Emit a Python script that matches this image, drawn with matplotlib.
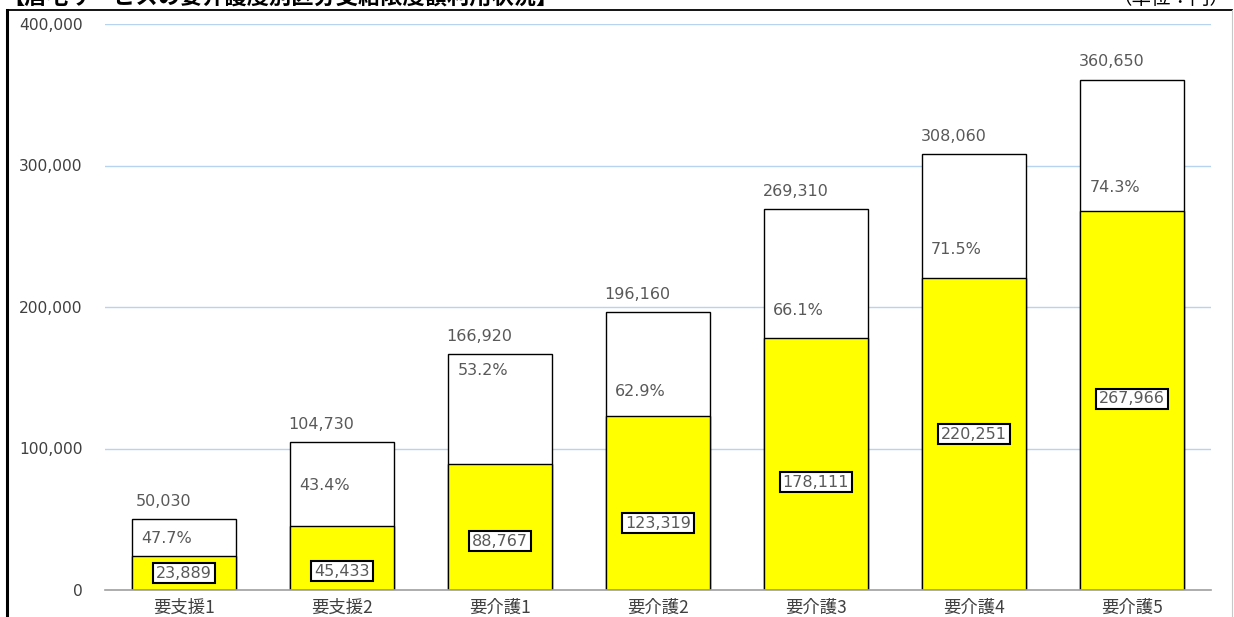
import numpy as np
import matplotlib
matplotlib.use('Agg')
import matplotlib.pyplot as plt
from matplotlib.lines import Line2D
from matplotlib.ticker import FuncFormatter

plt.rcParams['font.family'] = ['DejaVu Sans', 'Noto Sans CJK JP']

# Data
categories = ['要支援1', '要支援2', '要介護1', '要介護2', '要介護3', '要介護4', '要介護5']
limit_amount = [50030, 104730, 166920, 196160, 269310, 308060, 360650]
used_amount = [23889, 45433, 88767, 123319, 178111, 220251, 267966]
usage_rate = [47.7, 43.4, 53.2, 62.9, 66.1, 71.5, 74.3]

# label heights (data units), placed by hand in the original
rate_label_y = [36700, 74200, 154800, 140600, 197200, 240300, 284100]
used_label_y = [12000, 13400, 34600, 47300, 76300, 110200, 135000]

W, H = 1234, 617
fig = plt.figure(figsize=(W / 100, H / 100), dpi=100)
ax = fig.add_axes([105 / W, 1 - 590 / H, (1211 - 105) / W, (590 - 24) / H])

x = np.arange(len(categories))
bar_w = 0.66

# white bar = full limit, yellow bar = used part
ax.bar(x, limit_amount, width=bar_w, color='white', edgecolor='black', linewidth=1, zorder=2)
ax.bar(x, used_amount, width=bar_w, color='#ffff00', edgecolor='black', linewidth=1, zorder=3)

txt_color = '#595959'
for i in range(len(x)):
  ax.text(x[i] - 0.13, limit_amount[i] + 12500, f'{limit_amount[i]:,}', ha='center', va='center',
          fontsize=11.5, color=txt_color, zorder=5)
  ax.text(x[i] - 0.11, rate_label_y[i], f'{usage_rate[i]:.1f}%', ha='center', va='center',
          fontsize=11.5, color=txt_color, zorder=5)
  ax.text(x[i], used_label_y[i], f'{used_amount[i]:,}', ha='center', va='center',
          fontsize=11.5, color=txt_color, zorder=5,
          bbox=dict(boxstyle='square,pad=0.18', facecolor='white', edgecolor='black', linewidth=1.5))

ax.set_xlim(-0.5, len(categories) - 0.5)
ax.set_ylim(0, 400000)
ax.set_yticks([0, 100000, 200000, 300000, 400000])
ax.yaxis.set_major_formatter(FuncFormatter(lambda v, p: f'{int(v):,}'))
ax.set_xticks(x)
ax.set_xticklabels(categories, fontsize=12.5, color='#404040', family=['Noto Sans CJK JP', 'DejaVu Sans'])
ax.tick_params(axis='y', length=0, pad=16, labelsize=11.2, labelcolor='#404040')
ax.tick_params(axis='x', length=0, pad=6)

ax.grid(axis='y', color='#b7d3ee', linewidth=1, zorder=0)
ax.set_axisbelow(True)
for s in ['top', 'right', 'left']:
  ax.spines[s].set_visible(False)
ax.spines['bottom'].set_color('#a0a0a0')
ax.spines['bottom'].set_linewidth(1.2)
ax.spines['bottom'].set_zorder(4)

# outer frame of the original sheet
fig.add_artist(Line2D([7 / W, 7 / W], [0, 1 - 10 / H], color='black', linewidth=2.2))
fig.add_artist(Line2D([7 / W, 1232 / W], [1 - 10 / H, 1 - 10 / H], color='black', linewidth=1.3))
fig.add_artist(Line2D([1232 / W, 1232 / W], [0, 1 - 10 / H], color='#c8c8c8', linewidth=0.8))

# title cut off at the top edge, as in the original
fig.text(2 / W, 1 - 9 / H, '【居宅サービスの要介護度別区分支給限度額利用状況】', ha='left', va='bottom',
         fontsize=16, fontweight='bold', family=['Noto Sans CJK JP', 'DejaVu Sans'])
fig.text(1230 / W, 1 - 9 / H, '（単位：円）', ha='right', va='bottom',
         fontsize=14, family=['Noto Sans CJK JP', 'DejaVu Sans'])

fig.savefig('out.png', dpi=100)
plt.close(fig)
